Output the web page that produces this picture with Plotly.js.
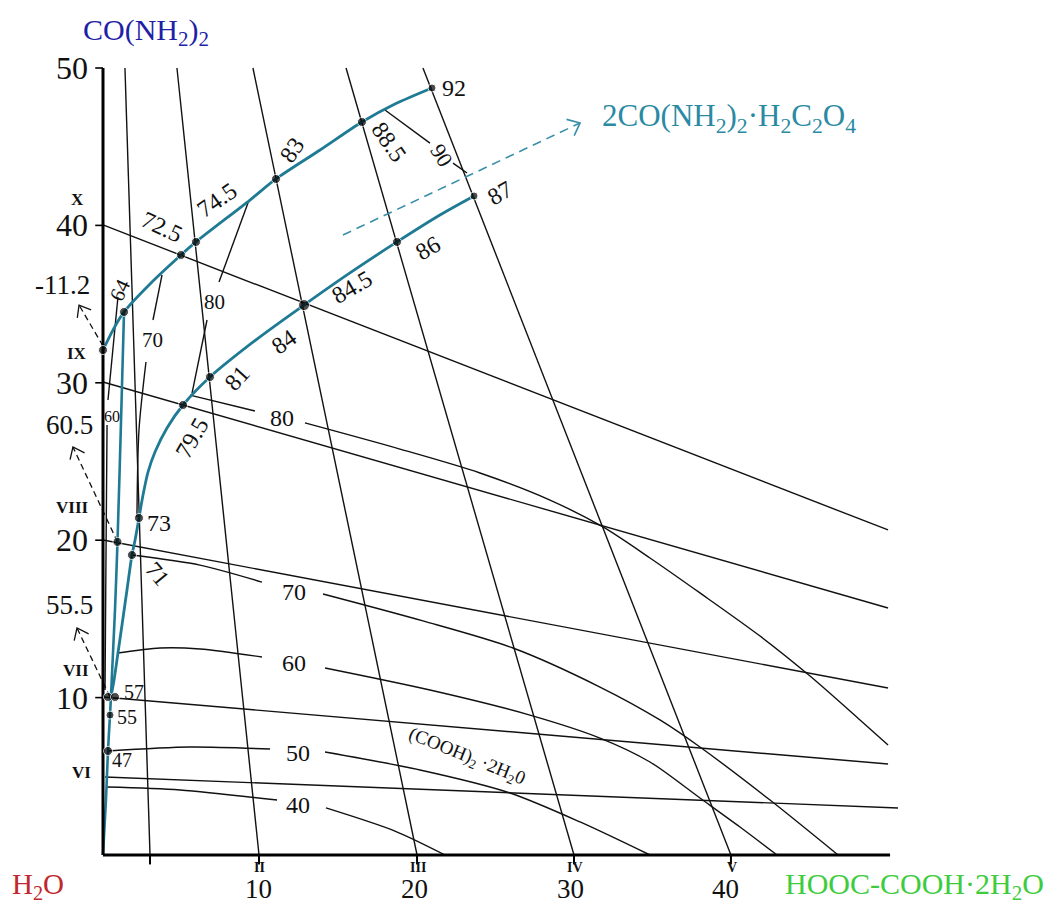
<!DOCTYPE html>
<html><head><meta charset="utf-8">
<script src="https://cdn.plot.ly/plotly-3.0.1.min.js"></script>
<style>html,body{margin:0;padding:0;background:#fff}#chart{width:1050px;height:905px}</style>
</head><body><div id="chart"></div>
<script>
// ================= DATA (diagram coordinates, % by mass) =================
// rays I..V (nearly vertical lines)
const rayLabels = ['I','II','III','IV','V'];
const rayTopX  = [1.41, 4.75, 9.63, 15.61, 20.55];
const rayTopY  = [50, 50, 50, 50, 50];
const rayFootX = [3.02, 10.02, 20.17, 30.25, 40.33];
// tie lines from the CO(NH2)2 axis
const tieStartX = [0, 0, 0, 0, 0.13];
const tieStartY = [40.03, 30.05, 20.01, 10.04, 4.96];
const tieEndX   = [50.42, 50.42, 50.42, 50.42, 51.06];
const tieEndY   = [20.65, 15.69, 10.61, 5.78, 2.99];
// isotherms (segments interrupted by labels)
const iso80x = [[9.38,7.45],[6.68,5.72],[5.59,9.76],[12.97,19.07,24.21,28.71,32.11,35.13,38.34,42.20,45.41,48.62,50.42]];
const iso80y = [[41.61,36.40],[33.99,29.35],[29.22,28.21],[27.45,25.79,24.27,22.55,20.84,18.87,16.65,13.91,11.37,8.58,6.99]];
const iso70x = [[3.79,3.21],[2.76,2.31,2.18],[1.86,6.23,10.21],[14.13,20.55,26.33,31.92,35.77,38.34,42.84,47.21]];
const iso70y = [[36.85,33.99],[31.32,26.99,21.47],[19.06,18.42,17.34],[16.58,14.87,13.15,10.67,8.58,6.86,3.49,0]];
const iso60x = [[0.96,0.32],[0.26,0.19,0.13],[0.96,3.66,6.23,10.21],[14.26,21.0,27.42,31.92,35.13,38.34,40.91,43.29]];
const iso60y = [[35.45,28.91],[27.32,18.74,10.48],[12.83,13.15,13.09,12.58],[11.88,10.48,8.89,7.43,5.91,3.62,1.78,0]];
const iso50x = [[0.32,5.59,10.73],[14.26,20.36,26.14,30.64,35.13]];
const iso50y = [[6.61,6.86,6.73],[6.54,5.40,3.94,2.10,0]];
const iso40x = [[0.26,4.95,11.18],[14.32,18.75,21.97]];
const iso40y = [[4.32,4.13,3.49],[2.99,1.52,0]];
const iso90x = [[18.11,21.0],[22.48,23.38]];
const iso90y = [[47.33,45.23],[43.96,43.33]];
// saturation curves (teal)
const liqAx = [0,0.64,1.35,3.02,5.01,5.97,9.44,11.11,13.94,16.63,18.75,21.13];
const liqAy = [32.08,33.35,34.50,36.28,38.12,38.95,41.61,42.95,44.79,46.57,47.71,48.73];
const liqBx = [23.83,21.64,18.88,15.86,12.91,9.89,6.87,5.14,4.11,3.34,2.89,2.57,2.31,2.06,1.86,1.54,1.22,0.96,0.71,0.51];
const liqBy = [41.87,40.66,38.95,36.98,34.94,32.78,30.37,28.59,27.13,25.60,24.33,22.87,21.41,20.01,19.06,16.84,14.61,12.83,11.12,10.04];
const liqCx = [1.35,1.16,0.93,0.77,0.51];
const liqCy = [34.50,27.64,19.89,15.57,10.04];
const liqDx = [0.51,0.45,0.32,0.19,0];
const liqDy = [10.04,8.89,6.61,3.49,0];
// invariant / marked points
const ptX = [0,1.35,5.01,5.97,11.11,16.63,21.13,23.83,18.88,12.91,6.87,5.14,2.31,0.93,1.86,0.32,0.77,0.45,0.32];
const ptY = [32.08,34.50,38.12,38.95,42.95,46.57,48.73,41.87,38.95,34.94,30.37,28.59,21.41,19.89,19.06,10.04,10.04,8.89,6.61];
const ptSize = [9,9,9,9,9,9,8,8,9,11,9,9,9,9,9,9,9,8,9];
// dashed arrows (black) and compound arrow (teal)
const dashFromX = [0, 0.93, 0.45];
const dashFromY = [32.34, 19.89, 10.04];
const dashToX   = [-1.54, -1.93, -1.67];
const dashToY   = [34.94, 25.92, 14.42];
const tealArrowX = [15.41, 30.64];
const tealArrowY = [39.39, 46.51];
// temperature labels
const lblText = ['92','88.5','90','87','86','84.5','84','81','79.5','73','71','72.5','74.5','83','64',
  '80','70','60','80','70','60','50','40','57','55','47','(COOH)<sub>2</sub> ·2H<sub>2</sub>0'];
const lblX = [22.55,18.37,21.77,25.50,20.87,15.99,11.6,8.61,5.72,3.60,3.53,3.79,7.32,12.14,1.09,
  7.19,3.15,0.58,11.50,12.27,12.27,12.52,12.52,2.0,1.54,1.22,23.38];
const lblY = [48.73,45.30,44.47,42.06,38.56,36.09,32.59,30.30,26.49,21.09,17.85,39.90,41.61,44.79,35.90,
  35.13,32.72,27.83,27.76,16.71,12.20,6.48,3.18,10.36,8.77,6.04,6.23];
const lblAng = [0,55,58,-30,-30,-30,-35,-48,-60,0,50,25,-35,-55,-65,0,0,0,0,0,0,0,0,0,0,0,22];
const lblSize = [24,24,22,24,24,24,24,24,24,24,23,24,24,24,21,21,21,16,24,24,24,24,24,20,20,20,19];
// axis ticks & side labels
const yTickVals = [10,20,30,40,50];
const xTickVals = [10,20,30,40];
const sideText = ['X','IX','VIII','VII','VI','-11.2','60.5','55.5'];
const sideX = [-1.67,-1.67,-1.93,-1.73,-1.35,-2.57,-2.12,-2.12];
const sideY = [41.62,31.85,22.05,11.75,5.27,36.21,27.32,15.88];
const sideSize = [17,17,17,17,17,27,27,27];

// ================= LAYOUT GEOMETRY =================
const SX = 15.57, SY = 15.74;         // px per unit
const W = 1050, H = 905;
const X0 = -103 / SX, Y0 = -50 / SY;
const TEAL = '#1f7a94';
const FONT = 'Liberation Serif, Times New Roman, serif';

const traces = [];
function line(x, y, color, width, dash, shape) {
  traces.push({type:'scatter', mode:'lines', x:x, y:y, hoverinfo:'skip', showlegend:false,
    line:{color:color, width:width, dash:dash||'solid', shape:shape||'linear', smoothing:0.8}});
}
function chevron(x1,y1,x2,y2,L,deg,color,width){
  const dx=(x2-x1)*SX, dy=-(y2-y1)*SY, a=Math.atan2(dy,dx), t=deg*Math.PI/180;
  const p=s=>[x2 - L*Math.cos(a+s*t)/SX, y2 + L*Math.sin(a+s*t)/SY];
  const A=p(1), B=p(-1);
  line([A[0],x2,B[0]],[A[1],y2,B[1]],color,width);
}

// rays
for (let i=0;i<rayTopX.length;i++) line([rayTopX[i],rayFootX[i]],[rayTopY[i],0],'#111',1.4);
// ties
for (let i=0;i<tieStartX.length;i++) line([tieStartX[i],tieEndX[i]],[tieStartY[i],tieEndY[i]],'#111',1.4);
// isotherms
[[iso80x,iso80y],[iso70x,iso70y],[iso60x,iso60y],[iso50x,iso50y],[iso40x,iso40y],[iso90x,iso90y]].forEach(([xs,ys])=>{
  xs.forEach((xx,k)=>line(xx,ys[k],'#111',1.4,'solid',xx.length>2?'spline':'linear'));
});
// dashed arrows
for (let i=0;i<dashFromX.length;i++){
  line([dashFromX[i],dashToX[i]],[dashFromY[i],dashToY[i]],'#111',1.3,'6px,4px');
  chevron(dashFromX[i],dashFromY[i],dashToX[i],dashToY[i],13,38,'#111',1.3);
}
line(tealArrowX,tealArrowY,'#3a8fa8',1.6,'9px,6px');
chevron(tealArrowX[0],tealArrowY[0],tealArrowX[1],tealArrowY[1],14,40,'#3a8fa8',1.6);
// saturation curves
line(liqCx,liqCy,TEAL,2.6,'solid','spline');
line(liqDx,liqDy,TEAL,2.6,'solid','spline');
line(liqAx,liqAy,TEAL,2.8,'solid','spline');
line(liqBx,liqBy,TEAL,2.8,'solid','spline');
// axes
line([0,0],[0,50],'#000',3);
line([0,50.55],[0,0],'#000',3);
yTickVals.forEach(v=>line([-0.5,0],[v,v],'#000',1.6));
rayFootX.forEach(v=>line([v,v],[0,-0.6],'#000',2));
// points
traces.push({type:'scatter', mode:'markers', x:ptX, y:ptY, hoverinfo:'skip', showlegend:false,
  marker:{color:'#000', size:ptSize}});

// ================= ANNOTATIONS =================
const ann = [];
function txt(t,x,y,size,color,opts){
  ann.push(Object.assign({text:t,x:x,y:y,xref:'x',yref:'y',showarrow:false,
    font:{family:FONT,size:size,color:color||'#111'},xanchor:'center',yanchor:'middle'},opts||{}));
}
lblText.forEach((t,i)=>txt(t,lblX[i],lblY[i],lblSize[i],'#111',{textangle:lblAng[i]}));
yTickVals.forEach(v=>txt(String(v),-0.83,v,32,'#111',{xanchor:'right'}));
xTickVals.forEach(v=>txt(String(v),v,-2.16,27,'#111'));
rayLabels.forEach((t,i)=>{ if(i>0) txt('<b>'+t+'</b>',rayFootX[i]+0.05,-0.78,14,'#111'); });
sideText.forEach((t,i)=>txt(i<5?'<b>'+t+'</b>':t,sideX[i],sideY[i],sideSize[i],'#111'));
txt('CO(NH<sub>2</sub>)<sub>2</sub>',2.76,52.29,30,'#1f1fa8');
txt('H<sub>2</sub>O',-4.17,-2.0,29,'#c0282d');
txt('HOOC-COOH·2H<sub>2</sub>O',60.55,-2.0,30,'#3dcc3d',{xanchor:'right'});
txt('2CO(NH<sub>2</sub>)<sub>2</sub>·H<sub>2</sub>C<sub>2</sub>O<sub>4</sub>',31.92,46.82,31,'#2a8aa3',{xanchor:'left'});

const layout = {
  width:W, height:H, margin:{l:0,r:0,t:0,b:0}, paper_bgcolor:'#fff', plot_bgcolor:'#fff',
  showlegend:false, hovermode:false,
  xaxis:{range:[X0, X0+W/SX], visible:false, fixedrange:true},
  yaxis:{range:[Y0, Y0+H/SY], visible:false, fixedrange:true},
  annotations:ann
};
Plotly.newPlot('chart', traces, layout, {displayModeBar:false, staticPlot:true});
</script></body></html>
